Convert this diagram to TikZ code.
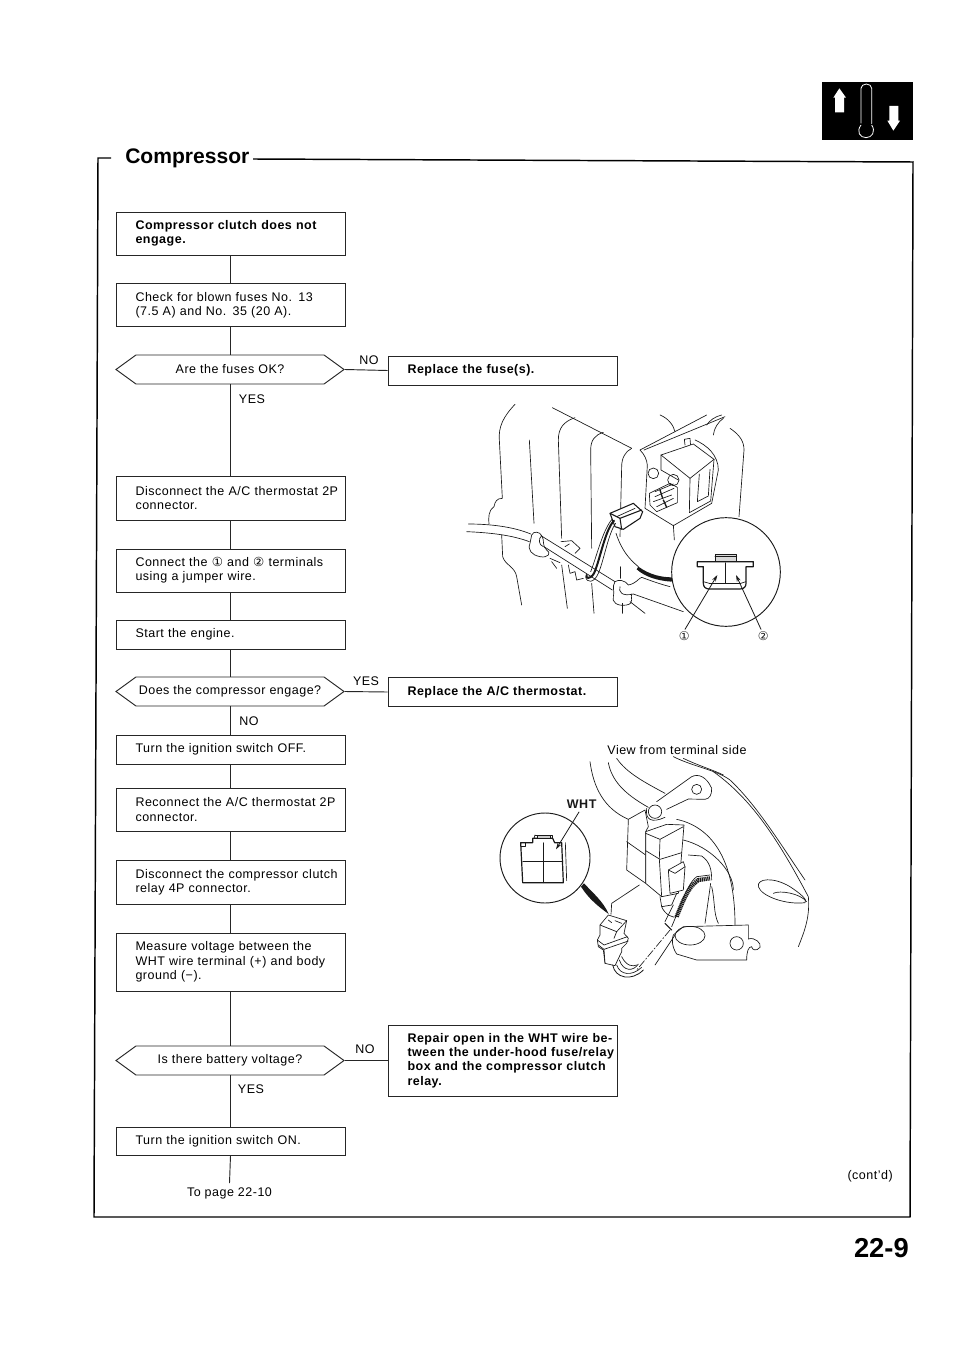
\documentclass[tikz,border=0pt]{standalone}
\usepackage{fontspec}
\setmainfont{Liberation Sans}
\newfontfamily\djv{DejaVu Sans}
\usetikzlibrary{shapes.symbols,arrows.meta}
\newcommand\uu{0.75pt}
\newcommand\jl[1]{\makebox[142.5pt][s]{#1}}
\newcommand\txt{\fontsize{9.375}{10.7}\selectfont\addfontfeatures{LetterSpace=4}}
\tikzset{
  flow/.style={line width=0.7pt,black!85},
  stepbox/.style={draw=black!85,line width=0.7pt,rectangle,minimum width=229*\uu,text width=142.5pt,inner xsep=14.6pt,inner ysep=0pt,align=left,font=\txt},
  boldbox/.style={stepbox,font=\txt\bfseries},
  hexbox/.style={draw=black!85,line width=0.7pt,shape=signal,signal to=east and west,signal pointer angle=72,minimum width=228*\uu,inner xsep=0pt,inner ysep=0pt,font=\txt,align=center},
  lab/.style={font=\txt,inner sep=0pt},
  ill/.style={line width=0.5pt,black!90,line cap=round,line join=round},
  leader/.style={line width=0.6pt,-{Stealth[length=5pt,width=3pt]}},
}
\begin{document}
\begin{tikzpicture}[x=0.75pt,y=-0.75pt]
\useasboundingbox (0,0) rectangle (960,1358);
\fill[white] (0,0) rectangle (960,1358);
% frame
\coordinate (fa) at (111,158); \coordinate (fb) at (98,158); \coordinate (fc) at (94,1217);
\coordinate (fd) at (910,1217); \coordinate (fe) at (913,162); \coordinate (ff) at (253,159);
\draw[line width=1.1pt,line join=miter] (fa) -- (fb) -- (fc) -- (fd) -- (fe) -- (ff);
\node[inner sep=0pt,anchor=west,font=\fontsize{15.8}{18}\selectfont\bfseries] (title) at (125,158) {Compressor};
% icon
\fill[black] (822,82) rectangle (913,140);
\begin{scope}[shift={(780,60)},x=0.25pt,y=-0.25pt]
\draw[white,line width=0.6pt] (243,190) -- (243,85) arc[start angle=180,end angle=0,x radius=16,y radius=-13] -- (275,190)
  arc[start angle=30,end angle=-210,radius=-0.1];
\draw[white,line width=0.6pt] (243,195) .. controls (228,215) and (240,233) .. (258,233) .. controls (276,233) and (288,215) .. (275,195);
\fill[white] (178,85) -- (198,113) -- (192,113) -- (192,157) -- (165,157) -- (165,113) -- (160,113) -- cycle;
\fill[white] (340,212) -- (360,182) -- (355,182) -- (355,138) -- (328,138) -- (328,182) -- (322,182) -- cycle;
\end{scope}
% flow nodes
\node[boldbox,minimum height=43*\uu] (a) at (230.5,233.5) {\jl{Compressor clutch does not}\\engage.};
\node[stepbox,minimum height=43*\uu] (b) at (230.5,305) {\jl{Check for blown fuses No. 13}\\(7.5 A) and No. 35 (20 A).};
\node[hexbox,minimum height=29*\uu] (c) at (230,369.5) {Are the fuses OK?};
\node[boldbox,minimum height=29*\uu] (d) at (502.5,370.5) {Replace the fuse(s).};
\node[stepbox,minimum height=44*\uu] (e) at (230.5,498) {\jl{Disconnect the A/C thermostat 2P}\\connector.};
\node[stepbox,minimum height=43*\uu] (f) at (230.5,570.5) {\jl{Connect the {\djv ①} and {\djv ②} terminals}\\using a jumper wire.};
\node[stepbox,minimum height=29*\uu] (g) at (230.5,634.5) {Start the engine.};
\node[hexbox,minimum height=29*\uu] (h) at (230,691.5) {Does the compressor engage?};
\node[boldbox,minimum height=29*\uu] (i) at (502.5,692) {Replace the A/C thermostat.};
\node[stepbox,minimum height=29*\uu] (j) at (230.5,749.5) {Turn the ignition switch OFF.};
\node[stepbox,minimum height=43*\uu] (k) at (230.5,809.5) {\jl{Reconnect the A/C thermostat 2P}\\connector.};
\node[stepbox,minimum height=44*\uu] (l) at (230.5,882) {\jl{Disconnect the compressor clutch}\\relay 4P connector.};
\node[stepbox,minimum height=58*\uu] (m) at (230.5,962) {\jl{Measure voltage between the}\\\jl{WHT wire terminal (+) and body}\\ground (−).};
\node[hexbox,minimum height=29*\uu] (n) at (230,1060.5) {Is there battery voltage?};
\node[boldbox,minimum height=71*\uu] (o) at (502.5,1060.5) {\jl{Repair open in the WHT wire be-}\\\jl{tween the under-hood fuse/relay}\\\jl{box and the compressor clutch}\\relay.};
\node[stepbox,minimum height=28*\uu] (p) at (230.5,1141) {Turn the ignition switch ON.};
\node[lab] (q) at (229.5,1193.5) {To page 22-10};
\coordinate (qt) at (229.5,1183);
\draw[flow] (a.south -| 230.5,0) -- (b.north -| 230.5,0);
\draw[flow] (b.south -| 230.5,0) -- (c.north -| 230.5,0);
\draw[flow] (c.south -| 230.5,0) -- (e.north -| 230.5,0);
\draw[flow] (e.south -| 230.5,0) -- (f.north -| 230.5,0);
\draw[flow] (f.south -| 230.5,0) -- (g.north -| 230.5,0);
\draw[flow] (g.south -| 230.5,0) -- (h.north -| 230.5,0);
\draw[flow] (h.south -| 230.5,0) -- (j.north -| 230.5,0);
\draw[flow] (j.south -| 230.5,0) -- (k.north -| 230.5,0);
\draw[flow] (k.south -| 230.5,0) -- (l.north -| 230.5,0);
\draw[flow] (l.south -| 230.5,0) -- (m.north -| 230.5,0);
\draw[flow] (m.south -| 230.5,0) -- (n.north -| 230.5,0);
\draw[flow] (n.south -| 230.5,0) -- (p.north -| 230.5,0);
\draw[flow] (p.south -| 230.5,0) -- (qt);
\draw[flow] (c.east) -- (d.west);
\draw[flow] (h.east) -- (i.west);
\draw[flow] (n.east) -- (o.west);
\node[lab] (t1) at (369,360) {NO};
\node[lab] (t2) at (252,399) {YES};
\node[lab] (t3) at (366,681) {YES};
\node[lab] (t4) at (249,721) {NO};
\node[lab] (t5) at (365,1049) {NO};
\node[lab] (t6) at (251,1089) {YES};
\node[lab,anchor=east] (t7) at (893,1176) {(cont’d)};
\node[inner sep=0pt,anchor=east,font=\fontsize{20.5}{24}\selectfont\bfseries] (t8) at (909,1248) {22-9};
% illustration 1
\begin{scope}[shift={(440,370)},x=0.25pt,y=-0.25pt,ill]
\draw (225,103) .. controls (190,140) and (175,170) .. (178,210) -- (187,385) .. controls (170,385) and (165,395) .. (162,410) .. controls (145,420) and (145,445) .. (147,462);
\draw (185,495) -- (188,560) .. controls (195,585) and (225,590) .. (230,620) -- (245,705);
\draw (268,210) -- (282,460);
\draw (337,113) -- (575,235);
\draw (405,143) .. controls (370,155) and (355,175) .. (355,210) -- (365,505);
\draw (365,585) -- (382,715);
\draw (490,187) .. controls (465,195) and (452,210) .. (452,240) -- (455,535);
\draw (455,640) -- (462,730);
\draw (575,235) .. controls (555,245) and (545,265) .. (545,290) -- (540,500);
\draw (540,590) -- (540,625); \draw (548,700) -- (548,730);
\draw (600,240) -- (800,135); \draw (612,240) -- (855,140); \draw (800,165) .. controls (810,150) and (825,140) .. (845,135);
\draw (820,195) .. controls (822,175) and (835,155) .. (850,145);
\draw (660,135) .. controls (685,145) and (700,165) .. (705,185);
\draw (870,175) .. controls (900,195) and (912,215) .. (912,240) -- (897,440);
\draw (700,465) -- (703,510);
% bracket
\draw (600,240) .. controls (615,255) and (620,270) .. (622,285) -- (615,415) -- (700,467) -- (815,400);
\draw (765,210) .. controls (800,225) and (835,255) .. (835,300) -- (815,400);
\draw (735,225) -- (733,208) -- (750,205) -- (752,230);
% thermostat
\draw[fill=white] (663,255) -- (760,222) -- (822,268) -- (750,325) -- cycle;
\draw (663,255) -- (663,300) -- (715,330); \draw (750,325) -- (748,428) -- (812,393) -- (822,268);
\draw (778,312) -- (772,395) -- (805,378) -- (810,298);
\draw (640,310) circle[radius=16]; \draw (700,330) circle[radius=17];
\draw (628,370) -- (690,340) -- (712,352) -- (712,398) -- (650,425) -- (630,405) -- cycle;
\draw (645,365) -- (700,342); \draw (645,380) -- (702,355); \draw (640,395) -- (695,375); \draw (650,410) -- (700,385);
\draw[line width=1pt] (660,360) -- (668,385); \draw[line width=1pt] (670,390) -- (680,412);
% plug
\draw[fill=white,line width=0.8pt] (510,430) -- (580,400) -- (608,425) -- (600,445) -- (550,478) -- (525,470) -- cycle;
\draw[line width=0.8pt] (510,430) -- (540,445) -- (605,420); \draw[line width=0.8pt] (540,445) -- (545,478);
\draw (530,440) -- (585,415); 
\draw[line width=1.5pt,fill=white] (522,452) .. controls (495,480) and (480,570) .. (462,610) .. controls (450,630) and (435,625) .. (440,615);
\draw[line width=0.5pt] (527,460) .. controls (505,490) and (492,570) .. (475,610) .. controls (462,640) and (440,640) .. (437,620);
\draw[line width=0.5pt] (516,448) .. controls (488,480) and (470,560) .. (452,605);
\draw (528,490) .. controls (545,540) and (565,565) .. (595,590);
\fill (595,590) .. controls (630,615) and (665,622) .. (697,622) -- (695,635) .. controls (650,632) and (615,620) .. (590,598) -- cycle;
% hose
\draw (85,462) .. controls (150,462) and (220,470) .. (272,492);
\draw (80,485) .. controls (150,488) and (215,495) .. (268,515);
\draw[fill=white] (275,495) .. controls (280,482) and (300,485) .. (305,497) .. controls (315,510) and (305,530) .. (320,540) .. controls (335,548) and (325,565) .. (300,560) .. controls (275,555) and (262,540) .. (270,520) -- cycle;
\draw (305,497) .. controls (295,505) and (295,525) .. (310,530);
\draw (303,497) -- (525,635); \draw (312,530) -- (517,660);
\draw[fill=white] (525,635) .. controls (535,628) and (555,630) .. (565,645) .. controls (590,640) and (595,625) .. (605,622) .. controls (640,635) and (660,642) .. (690,650);
\draw (540,650) .. controls (535,665) and (545,680) .. (580,672) -- (730,725);
\draw (525,635) .. controls (515,650) and (525,665) .. (520,680) .. controls (515,695) and (530,710) .. (560,705) .. controls (585,700) and (570,680) .. (575,672);
\draw (570,695) -- (615,730);
\draw (363,515) -- (395,512) -- (420,535) -- (405,550); \draw (375,530) -- (388,522);
\draw (330,565) -- (360,578); \draw (335,575) -- (350,595);
\draw (385,585) -- (390,610) -- (405,605) -- (410,630) -- (430,625);
% inset
\draw[line width=0.7pt,fill=white] (858,606) circle[radius=163];
\draw[fill=black!15] (825,552) -- (890,552) -- (890,575) -- (825,575) -- cycle;
\draw (825,560) -- (890,560);
\draw[line width=0.9pt,fill=white] (772,575) -- (940,575) -- (940,590) -- (918,590) -- (918,640) .. controls (918,650) and (912,657) .. (900,657) -- (808,657) .. controls (796,657) and (790,650) .. (790,640) -- (790,590) -- (772,590) -- cycle;
\draw (855,578) -- (855,638); \draw (808,640) -- (902,640);
\draw (790,635) -- (808,640); \draw (918,635) -- (902,640);
\coordinate (c1) at (735,778); \coordinate (c2) at (963,778);
\coordinate (c1t) at (832,615); \coordinate (c2t) at (888,615);
\draw[leader] (c1) -- (c1t);
\draw[leader] (c2) -- (c2t);
\node[inner sep=0pt,font=\djv\fontsize{9}{10}\selectfont] (n1) at (733,799) {①};
\node[inner sep=0pt,font=\djv\fontsize{9}{10}\selectfont] (n2) at (970,799) {②};
\end{scope}
% illustration 2
\node[lab] (v) at (677,750) {View from terminal side};
\begin{scope}[shift={(480,730)},x=0.25pt,y=-0.25pt,ill]
\draw (330,95) .. controls (340,170) and (370,235) .. (445,268);
\draw (385,98) .. controls (395,150) and (430,190) .. (505,232);
\draw (410,85) .. controls (440,130) and (500,160) .. (555,190);
\draw (580,80) .. controls (640,110) and (710,120) .. (750,150) .. controls (830,225) and (900,340) .. (975,450);
\draw (610,85) .. controls (650,105) and (700,120) .. (730,135);
\draw (700,125) .. controls (820,210) and (900,340) .. (985,500) .. controls (990,560) and (975,600) .. (955,650);
\draw (590,268) .. controls (690,290) and (765,380) .. (765,585);
\draw (610,330) .. controls (690,350) and (760,420) .. (760,480);
\draw (625,375) -- (665,378) .. controls (690,395) and (695,420) .. (695,450);
\draw (692,460) -- (675,580); \draw (695,470) .. controls (705,510) and (700,550) .. (715,580);
% bracket
\draw (530,215) -- (635,140) .. controls (655,130) and (680,140) .. (695,175) .. controls (695,195) and (690,205) .. (675,208) -- (625,207) -- (560,238);
\draw (650,178) circle[radius=15];
\draw (525,245) circle[radius=20]; \draw (500,235) .. controls (495,270) and (515,280) .. (555,262);
% relay
\draw[fill=white] (445,268) -- (495,240) -- (505,290) -- (497,305) -- (497,460) -- (440,420) -- cycle;
\draw (440,335) -- (497,375);
\draw[fill=white] (497,305) -- (560,283) -- (612,285) -- (605,370) -- (595,490) -- (545,500) -- (497,460) -- cycle;
\draw (497,310) -- (540,328) -- (610,290); \draw (540,328) -- (538,385); \draw (497,362) -- (540,388) -- (605,368);
\draw (538,388) -- (545,500);
\draw[fill=white] (565,420) -- (610,395) -- (615,410) -- (610,480) -- (570,490) -- cycle; \draw (565,420) -- (585,430) -- (615,410);
\draw (540,500) -- (545,530) -- (575,525) -- (590,490);
\draw (545,530) .. controls (555,555) and (580,565) .. (590,560);
% harness
\draw[line width=3.2pt,dash pattern=on 0.9pt off 0.5pt,line cap=butt] (590,560) .. controls (610,510) and (625,470) .. (655,450) -- (690,445);
\draw (575,590) -- (600,530) .. controls (615,490) and (630,455) .. (650,440) -- (690,435);
\draw (555,575) -- (580,525);
\draw[line width=0.8pt] (555,580) -- (575,600);
% plate
\draw (610,590) -- (805,585) -- (805,627) .. controls (825,620) and (845,640) .. (840,652) .. controls (830,665) and (815,660) .. (815,650) .. controls (805,650) and (800,665) .. (800,690) -- (650,690) -- (590,672) .. controls (575,650) and (575,625) .. (580,615) -- (610,590);
\draw (630,617) ellipse[x radius=45,y radius=28];
\draw (770,640) circle[radius=20];
\draw (835,470) .. controls (830,445) and (880,440) .. (930,470) .. controls (960,490) and (985,510) .. (975,518) .. controls (920,525) and (845,500) .. (835,470);
\draw (880,490) .. controls (900,480) and (960,490) .. (980,515);
\draw[dash pattern=on 6pt off 1.5pt on 1pt off 1.5pt] (570,600) -- (470,720);
\draw (585,615) -- (525,705);
% connector
\draw[fill=white] (360,585) -- (385,555) -- (440,572) -- (432,610) -- (445,625) -- (440,640) -- (425,655) -- (425,665) -- (405,707) -- (375,700) -- (370,660) -- (355,650) -- (352,630) -- (360,615) -- cycle;
\draw (360,585) -- (410,605) -- (440,572); \draw (410,605) -- (402,625);
\draw (352,630) -- (372,645) -- (442,620); \draw (355,645) -- (372,658) -- (445,633);
\draw (372,658) -- (375,700); \draw (385,570) -- (395,578); \draw (405,572) -- (425,580);
\draw[line width=0.6pt] (398,705) .. controls (405,745) and (455,755) .. (490,720);
\draw (410,705) .. controls (420,735) and (455,740) .. (485,712);
\draw (418,690) .. controls (430,725) and (460,725) .. (475,702);
\draw (425,680) .. controls (440,710) and (460,710) .. (470,705);
\draw (393,553) -- (395,520) -- (478,465);
\fill (312,460) .. controls (340,490) and (370,515) .. (386,552) .. controls (355,530) and (325,505) .. (303,470) -- cycle;
% inset
\draw[line width=0.7pt,fill=white] (195,384) circle[radius=135];
\draw[line width=0.9pt] (122,338) -- (158,338) -- (158,325) -- (218,325) -- (224,338) -- (245,338) -- (250,458) -- (128,458) -- cycle;
\draw (165,315) -- (218,315) -- (218,325); \draw (165,315) -- (162,325); \draw[fill=black!20] (172,317) rectangle (212,325);
\draw (190,338) -- (190,458); \draw (128,395) -- (248,395);
\draw (135,340) -- (135,350) -- (122,350); \draw (256,338) -- (260,452);
\node[inner sep=0pt,font=\txt\bfseries] (w) at (305,222) {WHT};
\coordinate (wt) at (228,358);
\draw[leader] (w.south) ++(-8,10) -- (wt);
\end{scope}
\end{tikzpicture}
\end{document}
